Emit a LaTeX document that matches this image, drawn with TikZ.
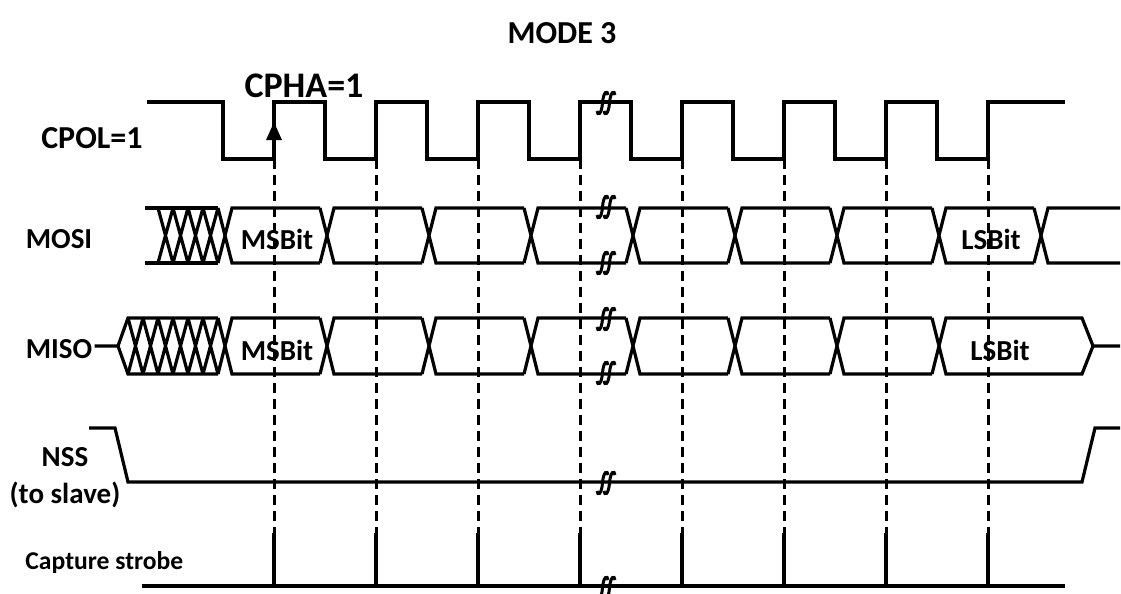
\documentclass[tikz,border=0pt]{standalone}
\usepackage{fontspec}
\setmainfont{Carlito}
\usetikzlibrary{arrows.meta,calc}
\tikzset{
  wave/.style={line width=1.6pt},
  probe/.style={line width=1.5pt,dash pattern=on 5pt off 3pt},
  sglbl/.style={font=\fontsize{14.5}{18.5}\selectfont\bfseries,inner sep=1pt},
  cpollbl/.style={font=\fontsize{16}{18}\selectfont\bfseries,inner sep=0pt},
  bitlbl/.style={font=\fontsize{14.5}{16}\selectfont\bfseries,inner sep=1pt},
  strlbl/.style={font=\fontsize{12.8}{15}\selectfont\bfseries,inner sep=0pt},
  ttl/.style={font=\fontsize{16}{18}\selectfont\bfseries},
  cphalbl/.style={font=\fontsize{18}{20}\selectfont\bfseries},
  brk/.pic={
    \foreach \dx in {-3.5,3.5}
      \draw[line width=1.5pt,shift={(\dx,0)}] (5.5,-8) .. controls (5,-13) and (1,-12) .. (0,0)
        .. controls (-1,12) and (-5,13) .. (-5.5,8);
  },
}

\begin{document}
\begin{tikzpicture}[x=0.5pt,y=-0.5pt]
  \useasboundingbox (0,0) rectangle (1121,594);
  \node[ttl] (mode) at (562,33) {MODE 3};
  \node[cphalbl] (cpha) at (304,86) {CPHA=1};

  % clock
  \node[cpollbl,anchor=east] (cpol) at (143,138) {CPOL=1};
  \draw[wave] (147,102) -- (223,102)
    \foreach \k in {0,...,7}{ -- ++(0,57) -- ++(51,0) -- ++(0,-57) -- ++(51,0)}
    -- (1065,102);
  \draw[wave,-{Triangle[length=9pt,width=7.5pt]}] (274,159) -- (274,122);

  % MOSI
  \node[sglbl] (mosi) at (59,239) {MOSI};
  \draw[wave] (145,208) -- (218,208) (145,263) -- (218,263);
  \foreach \j in {0,...,3}
    \draw[wave] ({158+15*\j},208) -- ({173+15*\j},263)
      ({158+15*\j},263) -- ({173+15*\j},208);
  \foreach \k in {0,...,7}{
    \pgfmathsetmacro\tx{225+102*\k}
    \draw[wave] (\tx-7,208) -- (\tx+7,263) -- (\tx+95,263)
      (\tx-7,263) -- (\tx+7,208) -- (\tx+95,208);
  }
  \draw[wave] (1034,208) -- (1048,263) -- (1120,263)
    (1034,263) -- (1048,208) -- (1120,208);
  \node[bitlbl] (mosimsb) at (277,239.5) {MSBit};
  \node[bitlbl] (mosilsb) at (991,239.5) {LSBit};

  % MISO
  \node[sglbl] (miso) at (59,349.5) {MISO};
  \draw[wave] (miso.east |- 0,346) -- (118,346) -- (128,318) -- (218,318)
    (118,346) -- (128,374) -- (218,374);
  \foreach \j in {0,...,5}
    \draw[wave] ({128+15*\j},318) -- ({143+15*\j},374)
      ({128+15*\j},374) -- ({143+15*\j},318);
  \foreach \k in {0,...,6}{
    \pgfmathsetmacro\tx{225+102*\k}
    \draw[wave] (\tx-7,318) -- (\tx+7,374) -- (\tx+95,374)
      (\tx-7,374) -- (\tx+7,318) -- (\tx+95,318);
  }
  \draw[wave] (932,318) -- (946,374) -- (1082,374) -- (1093,346) -- (1120,346)
    (932,374) -- (946,318) -- (1082,318) -- (1093,346);
  \node[bitlbl] (misomsb) at (277,350) {MSBit};
  \node[bitlbl] (misolsb) at (1000,350) {LSBit};

  % NSS
  \node[sglbl,align=center] (nss) at (65,478) {NSS\\(to slave)};
  \draw[wave] (89,428) -- (115,428) -- (128,482) -- (1082,482)
    -- (1095,428) -- (1120,428);

  % capture strobe
  \node[strlbl,anchor=west] (capt) at (25,563) {Capture strobe};
  \draw[wave] (142,586) -- (1065,586);
  \foreach \k in {0,...,7}{
    \draw[probe] ({274+102*\k},159) -- ({274+102*\k},533);
    \draw[wave] ({274+102*\k},533) -- ({274+102*\k},586);
  }

  % breaks
  \foreach \yy in {103,207,263,319,373,483,588}
    \pic at (606,\yy) {brk};
\end{tikzpicture}
\end{document}
